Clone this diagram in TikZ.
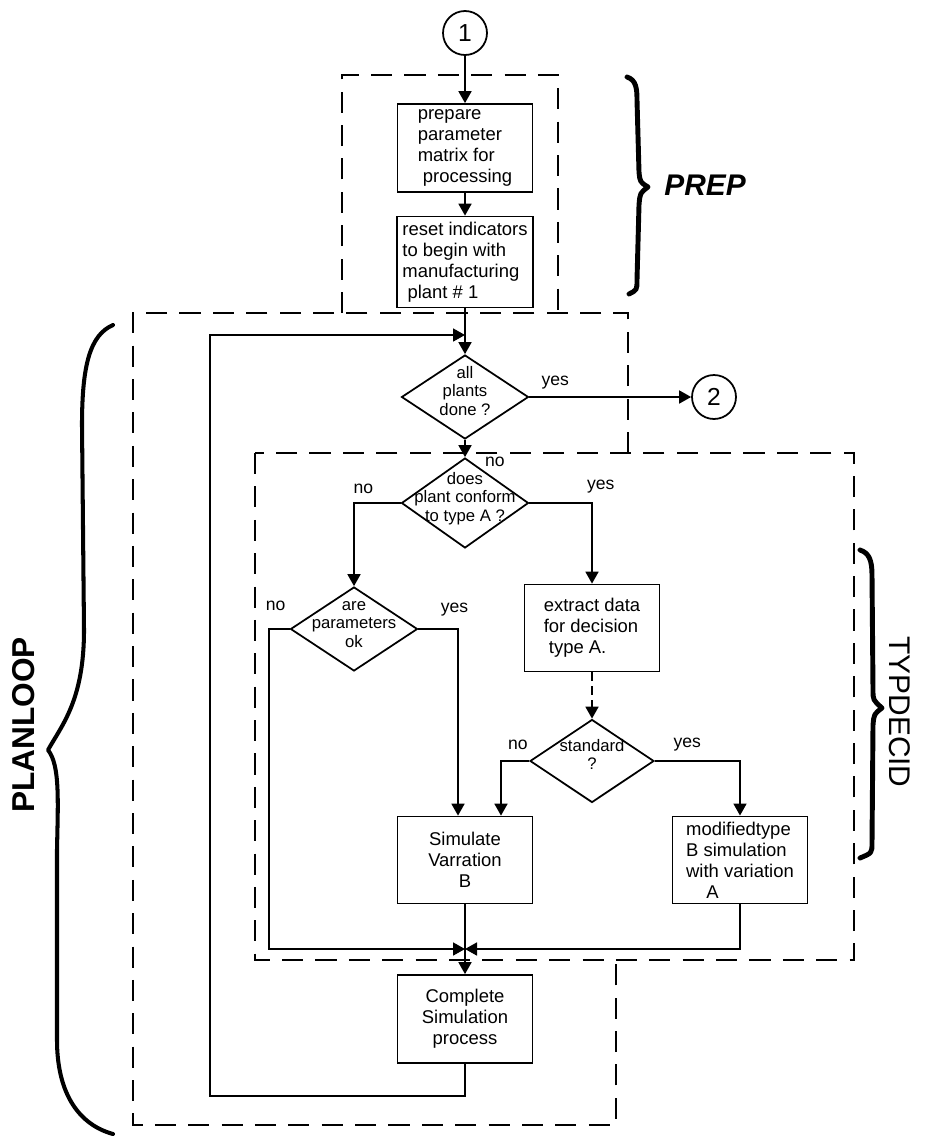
\documentclass[tikz,border=0pt]{standalone}
\usepackage{fontspec}
\setmainfont{Liberation Sans}
\usetikzlibrary{shapes.geometric,arrows.meta}

\tikzset{
  >={Triangle[length=2.4mm,width=2.6mm]},
  box/.style={draw,shape=rectangle,line width=1pt,inner sep=3pt,minimum width=2.7cm,minimum height=1.76cm,font=\fontsize{10.5}{12}\selectfont},
  dec/.style={draw,shape=diamond,line width=1pt,inner sep=0pt,minimum width=2.54cm,minimum height=1.68cm,font=\fontsize{9.5}{10.5}\selectfont},
  conn/.style={draw,shape=circle,line width=1pt,minimum size=0.88cm,inner sep=0pt,font=\fontsize{14}{16}\selectfont},
  flow/.style={->,line width=1pt},
  frame/.style={line width=1.1pt,dash pattern=on 12pt off 7pt},
  brace/.style={line width=2.8pt,line cap=round,line join=round},
  lbl/.style={font=\fontsize{10}{12}\selectfont,inner sep=1pt},
}
\newcommand{\dtext}[1]{\smash{\makebox[0pt]{\begin{tabular}{@{}c@{}}#1\end{tabular}}}}

\begin{document}
\begin{tikzpicture}[x=0.02cm,y=-0.02cm]
\useasboundingbox (0,0) rectangle (927,1139);

% dashed module frames
\draw[frame] (342,313) -- (342,75) -- (558,75) -- (558,313);
\draw[frame] (628,453) -- (628,313) -- (133,313) -- (133,1125) -- (616,1125) -- (616,960);
\draw[frame] (255,453) rectangle (854,960);

% connectors
\node (c1) [conn] at (465,33) {1};
\node (c2) [conn] at (714,397) {2};

\node (prep) [box,align=left] at (465,148) {prepare\\ parameter\\ matrix for\\ \ processing};
\node (reset) [box,align=left] at (465,262) {reset indicators\\ to begin with\\ manufacturing\\ \ plant \# 1};

\node (done) [dec] at (465,397) {\dtext{all\\ plants\\ done ?}};
\node (conform) [dec,minimum height=1.8cm] at (465,503) {\dtext{does\\ plant conform\\ to type A ?}};
\node (paramok) [dec] at (354,629) {\dtext{are\\ parameters\\ ok}};
\node (extract) [box,align=left,minimum height=1.74cm] at (592,628) {extract data\\ for decision\\ \ type A.};
\node (standard) [dec,minimum width=2.48cm,minimum height=1.66cm] at (592,761) {\dtext{standard\\ ?}};

\node (simB) [box,align=center,minimum height=1.74cm] at (465,860) {Simulate\\ Varration\\ B};
\node (modA) [box,align=left,minimum height=1.7cm] at (740,860) {modifiedtype\\ B simulation\\ with variation\\ \hspace{1.1em}A};
\node (complete) [box,align=center] at (465,1019) {Complete\\ Simulation\\ process};

\coordinate (loopin) at (465,335);
\coordinate (lbot) at (210,1096);
\coordinate (lcorner) at (269,949);
\coordinate (merge) at (465,949);

\draw[flow] (c1) -- (prep);
\draw[flow] (prep) -- (reset);
\draw[flow] (reset) -- (done);
\draw[flow] (done) -- node[lbl,pos=0.16,above=3pt]{yes} (c2);
\draw[flow] (done) -- node[lbl,pos=1,right=0.35cm,yshift=-0.1cm]{no} (conform);
\draw[flow] (conform.west) -| node[lbl,pos=0.4,above=4pt]{no} (paramok.north);
\draw[flow] (conform.east) -| node[lbl,pos=0.5,above=4pt,xshift=5pt]{yes} (extract.north);
\draw[flow] (paramok.east) -| node[lbl,pos=0.5,above=6pt,xshift=-2pt]{yes} ([xshift=-0.14cm]simB.north);
\draw[flow] (paramok.west) -| node[lbl,pos=0.34,above=9pt]{no} (lcorner) -- (merge);
\draw[flow,dash pattern=on 5pt off 3pt] (extract) -- (standard);
\draw[flow] (standard.west) -| node[lbl,pos=0.2,above=5pt]{no} ([xshift=0.72cm]simB.north);
\draw[flow] (standard.east) -| node[lbl,pos=0.19,above=4pt]{yes} (modA.north);
\draw[line width=1pt] (simB) -- (merge);
\draw[flow] (modA.south) |- (merge);
\draw[flow] (merge) -- (complete);
\draw[flow] (complete) |- (lbot) |- (loopin);

% braces and module names
\draw[brace] (627,77) .. controls (636,80) and (637,88) .. (637,100) -- (639,172) .. controls (640,182) .. (648,187) .. controls (640,193) .. (639,205) -- (637,280) .. controls (637,290) .. (629,294);
\draw[brace,line width=2.3pt] (113,325) .. controls (90,335) and (82,365) .. (82,425) -- (84,630) .. controls (84,700) and (62,725) .. (48,750) .. controls (60,765) and (58,800) .. (57,850) -- (57,1040) .. controls (57,1095) and (80,1125) .. (113,1134);
\draw[brace] (860,550) .. controls (869,553) and (872,560) .. (872,575) -- (873,690) .. controls (873,700) .. (882,708) .. controls (874,714) .. (873,725) -- (872,843) .. controls (872,853) .. (860,858);

\node (preplabel) [font=\fontsize{17}{20}\selectfont\bfseries\itshape] at (705,185) {PREP};
\node (planlabel) [rotate=90,font=\fontsize{18}{20}\selectfont\bfseries] at (24,725) {PLANLOOP};
\node (typlabel) [rotate=-90,font=\fontsize{17}{20}\selectfont] at (900,712) {TYPDECID};

\end{tikzpicture}
\end{document}
